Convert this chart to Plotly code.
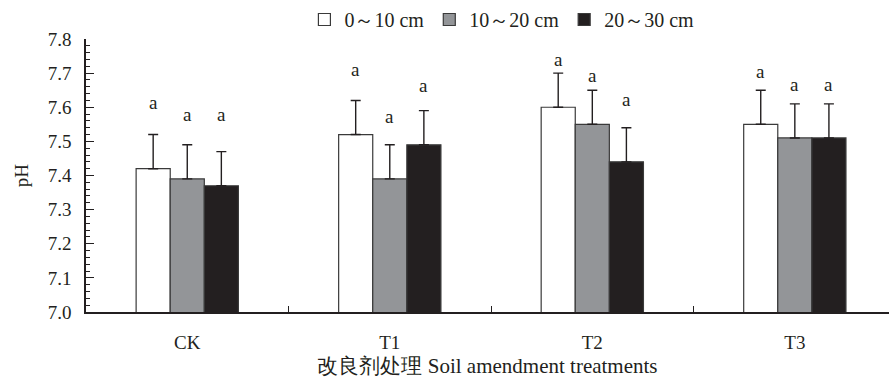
import plotly.graph_objects as go

categories = ["CK", "T1", "T2", "T3"]
series_names = ["0～10 cm", "10～20 cm", "20～30 cm"]
ph_0_10 = [7.42, 7.52, 7.60, 7.55]
ph_10_20 = [7.39, 7.39, 7.55, 7.51]
ph_20_30 = [7.37, 7.49, 7.44, 7.51]
err_0_10 = [0.10, 0.10, 0.10, 0.10]
err_10_20 = [0.10, 0.10, 0.10, 0.10]
err_20_30 = [0.10, 0.10, 0.10, 0.10]
sig_0_10 = ["a", "a", "a", "a"]
sig_10_20 = ["a", "a", "a", "a"]
sig_20_30 = ["a", "a", "a", "a"]
# height (pH units) at which each letter is written
lab_0_10 = [7.613, 7.710, 7.739, 7.705]
lab_10_20 = [7.578, 7.573, 7.693, 7.668]
lab_20_30 = [7.578, 7.664, 7.622, 7.668]

values = [ph_0_10, ph_10_20, ph_20_30]
errors = [err_0_10, err_10_20, err_20_30]
letters = [sig_0_10, sig_10_20, sig_20_30]
label_y = [lab_0_10, lab_10_20, lab_20_30]
colors = ["#ffffff", "#939598", "#231f20"]
ink = "#231f20"
font_family = "Liberation Serif"
fs = 19
bargap = 0.495

fig = go.Figure()
for name, v, e, c in zip(series_names, values, errors, colors):
    fig.add_trace(go.Bar(
        x=categories, y=v, name=name,
        marker=dict(color=c, line=dict(color="#3a3a3a", width=1.2)),
        error_y=dict(type="data", array=e, arrayminus=[0] * len(e), symmetric=False,
                     color=ink, thickness=1.4, width=5),
    ))

bw = (1 - bargap) / len(series_names)
ann = []
for j, (lts, ly) in enumerate(zip(letters, label_y)):
    for i, (t, yv) in enumerate(zip(lts, ly)):
        ann.append(dict(x=i + (j - 1) * bw, y=yv, xref="x", yref="y", text=t,
                        showarrow=False, font=dict(size=fs, color=ink, family=font_family)))

fig.update_layout(
    width=889, height=384,
    margin=dict(l=86, r=0, t=39, b=72),
    paper_bgcolor="white", plot_bgcolor="white",
    barmode="group", bargap=bargap, bargroupgap=0,
    font=dict(family=font_family, size=fs, color=ink),
    showlegend=True,
    legend=dict(orientation="h", x=0.272, xanchor="left", y=1.0, yanchor="bottom",
                font=dict(size=20, color=ink, family=font_family), itemwidth=30,
                tracegroupgap=0, bgcolor="rgba(0,0,0,0)"),
    annotations=ann,
    xaxis=dict(type="category", range=[-0.5, 3.465], tickson="boundaries",
               ticks="inside", ticklen=6, tickwidth=1.4, tickcolor=ink,
               showline=True, linecolor=ink, linewidth=1.6, showgrid=False,
               zeroline=False, tickfont=dict(size=fs, color=ink, family=font_family),
               ticklabelstandoff=12,
               title=dict(text="改良剂处理 Soil amendment treatments", standoff=7,
                          font=dict(size=21, color=ink, family=font_family))),
    yaxis=dict(range=[7.0, 7.8], tickmode="linear", tick0=7.0, dtick=0.1,
               tickformat=".1f", ticks="inside", ticklen=8, tickwidth=1.4, tickcolor=ink,
               minor=dict(dtick=0.02, tick0=7.0, ticks="inside", ticklen=4,
                          tickwidth=1.2, tickcolor=ink),
               showline=True, linecolor=ink, linewidth=1.6, showgrid=False,
               zeroline=False, tickfont=dict(size=fs, color=ink, family=font_family),
               ticklabelstandoff=9,
               title=dict(text="pH", standoff=14, font=dict(size=fs, color=ink, family=font_family))),
)

fig.write_html("out.html")
